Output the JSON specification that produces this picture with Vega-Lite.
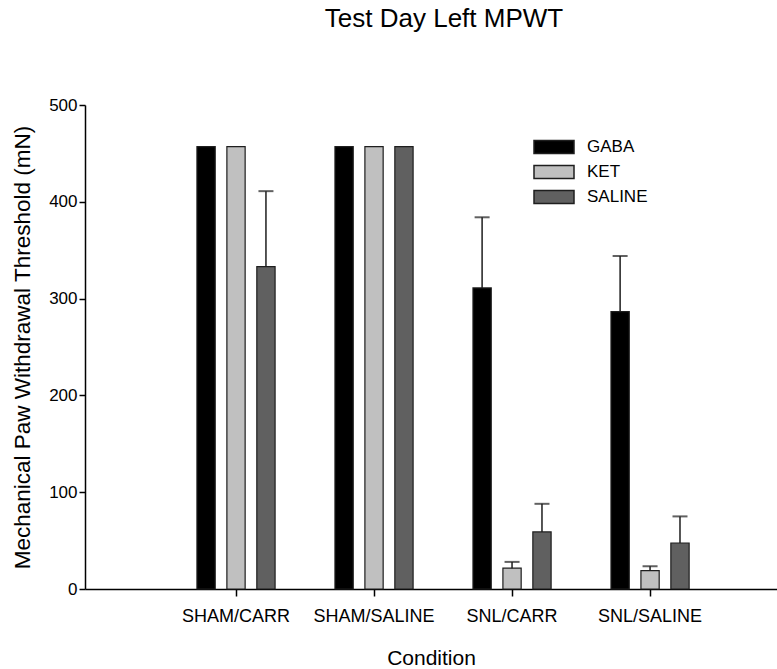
{
  "$schema": "https://vega.github.io/schema/vega-lite/v6.json",
  "width": 692,
  "height": 484,
  "autosize": {"type": "none"},
  "padding": {"left": 85, "top": 105, "right": 0, "bottom": 80},
  "background": "white",
  "title": {
    "text": "Test Day Left MPWT",
    "font": "Liberation Sans",
    "fontSize": 26,
    "fontWeight": "normal",
    "color": "#000",
    "anchor": "middle",
    "baseline": "alphabetic",
    "offset": 43,
    "dx": 13
  },
  "config": {
    "view": {"stroke": null},
    "font": "Liberation Sans",
    "axis": {
      "domainColor": "#000",
      "tickColor": "#000",
      "labelColor": "#000",
      "titleColor": "#000",
      "labelFont": "Liberation Sans",
      "titleFont": "Liberation Sans",
      "titleFontWeight": "normal",
      "grid": false
    }
  },
  "data": {
    "values": [
      {"condition": "SHAM/CARR", "group": "GABA", "value": 457, "upper": null},
      {"condition": "SHAM/CARR", "group": "KET", "value": 457, "upper": null},
      {"condition": "SHAM/CARR", "group": "SALINE", "value": 333, "upper": 411},
      {"condition": "SHAM/SALINE", "group": "GABA", "value": 457, "upper": null},
      {"condition": "SHAM/SALINE", "group": "KET", "value": 457, "upper": null},
      {"condition": "SHAM/SALINE", "group": "SALINE", "value": 457, "upper": null},
      {"condition": "SNL/CARR", "group": "GABA", "value": 311, "upper": 384},
      {"condition": "SNL/CARR", "group": "KET", "value": 21.5, "upper": 28},
      {"condition": "SNL/CARR", "group": "SALINE", "value": 59, "upper": 88},
      {"condition": "SNL/SALINE", "group": "GABA", "value": 286.5, "upper": 344},
      {"condition": "SNL/SALINE", "group": "KET", "value": 19, "upper": 23.5},
      {"condition": "SNL/SALINE", "group": "SALINE", "value": 47.5, "upper": 75}
    ]
  },
  "encoding": {
    "x": {
      "field": "condition",
      "type": "nominal",
      "sort": ["SHAM/CARR", "SHAM/SALINE", "SNL/CARR", "SNL/SALINE"],
      "scale": {"paddingInner": 0, "paddingOuter": 0.507, "align": 0.586},
      "axis": {
        "title": "Condition",
        "titleFontSize": 21,
        "titlePadding": 22,
        "labelFontSize": 18,
        "labelAngle": 0,
        "labelPadding": 11,
        "tickSize": 7,
        "tickWidth": 1.5,
        "domainWidth": 1.5
      }
    },
    "xOffset": {
      "field": "group",
      "type": "nominal",
      "sort": ["GABA", "KET", "SALINE"],
      "scale": {"paddingInner": 0.39, "paddingOuter": 1.25}
    }
  },
  "layer": [
    {
      "mark": {"type": "bar", "stroke": "#1e1e1e", "strokeWidth": 1.2},
      "encoding": {
        "y": {
          "field": "value",
          "type": "quantitative",
          "scale": {"domain": [0, 500], "nice": false, "zero": true},
          "axis": {
            "title": "Mechanical Paw Withdrawal Threshold (mN)",
            "titleFontSize": 22.5,
            "titlePadding": 14,
            "labelFontSize": 17,
            "values": [0, 100, 200, 300, 400, 500],
            "tickSize": 6,
            "tickWidth": 1.5,
            "domainWidth": 1.5,
            "labelPadding": 2
          }
        },
        "color": {
          "field": "group",
          "type": "nominal",
          "sort": ["GABA", "KET", "SALINE"],
          "scale": {"domain": ["GABA", "KET", "SALINE"], "range": ["#000000", "#c0c0c0", "#606060"]},
          "legend": {
            "title": null,
            "orient": "none",
            "legendX": 458,
            "legendY": 31,
            "symbolType": "M-2,-0.65H2V0.65H-2Z",
            "symbolSize": 400,
            "symbolStrokeColor": "#1e1e1e",
            "symbolStrokeWidth": 1.5,
            "symbolOpacity": 1,
            "labelFontSize": 17,
            "labelColor": "#000",
            "labelFont": "Liberation Sans",
            "labelOffset": 22,
            "rowPadding": 4
          }
        }
      }
    },
    {
      "mark": {"type": "rule", "color": "#1e1e1e", "strokeWidth": 1.5},
      "encoding": {
        "y": {"field": "value", "type": "quantitative"},
        "y2": {"field": "upper"}
      }
    },
    {
      "mark": {"type": "tick", "color": "#1e1e1e", "thickness": 2, "size": 15},
      "encoding": {
        "y": {"field": "upper", "type": "quantitative"}
      }
    }
  ]
}
